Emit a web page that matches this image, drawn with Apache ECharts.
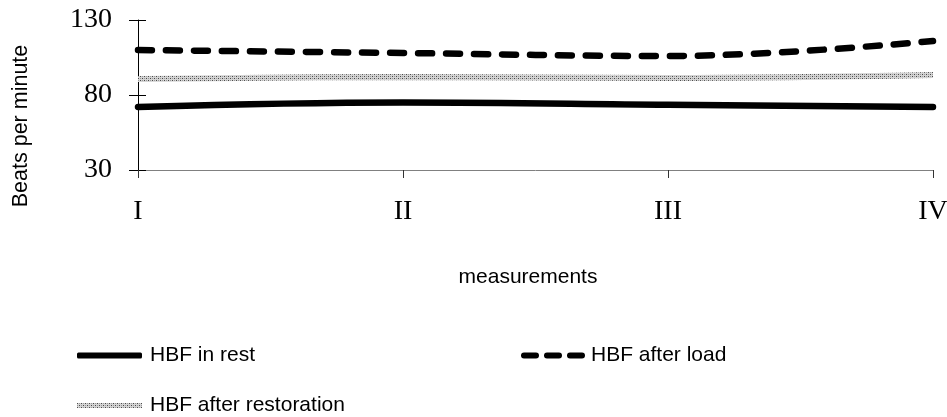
<!DOCTYPE html>
<html><head><meta charset="utf-8">
<script src="https://cdn.jsdelivr.net/npm/echarts@6/dist/echarts.min.js"></script>
<style>html,body{margin:0;padding:0;background:#fff}#c{width:947px;height:417px}</style>
</head><body><div id="c"></div>
<script>
const categories = ['I', 'II', 'III', 'IV'];
const rest = [72, 75, 73.5, 72];
const afterLoad = [110, 108, 106, 116];
const afterRestoration = [90.7, 92, 91.3, 93.3];
const yTicks = [30, 80, 130];
const yTitle = 'Beats per minute';
const xTitle = 'measurements';

const pc = document.createElement('canvas');
pc.width = 4; pc.height = 4;
const g = pc.getContext('2d');
g.fillStyle = '#d4d4d4'; g.fillRect(0,0,4,4);
g.fillStyle = '#4a4a4a'; g.fillRect(0,0,1,1); g.fillRect(2,2,1,1);
g.fillStyle = '#999'; g.fillRect(2,0,1,1); g.fillRect(0,2,1,1);
const pattern = {image: pc, repeat: 'repeat'};

const chart = echarts.init(document.getElementById('c'));
const serif = '"Liberation Serif", "Times New Roman", serif';
const sans = '"Liberation Sans", Arial, sans-serif';
const legText = {fontFamily: sans, fontSize: 21, color: '#000'};
chart.setOption({
  animation: false,
  grid: {left: 138, right: 14, top: 20, bottom: 247, containLabel: false, outerBoundsMode: 'none'},
  graphic: [
    {type: 'text', x: 21, y: 126, rotation: Math.PI / 2,
     style: {text: yTitle, font: '21.5px ' + sans, fill: '#000', align: 'center', verticalAlign: 'middle'}},
    {type: 'text', x: 528, y: 277,
     style: {text: xTitle, font: '21px ' + sans, fill: '#000', align: 'center', verticalAlign: 'middle'}}
  ],
  legend: [
    {data: [{name: 'HBF in rest', icon: 'roundRect'}], left: 72, top: 340, itemWidth: 65, itemHeight: 6,
     textStyle: Object.assign({padding: [0, 0, 0, 3]}, legText)},
    {data: [{name: 'HBF after load', icon: 'path://M3,0H15A3,3 0 0 1 15,6H3A3,3 0 0 1 3,0Z M26,0H38A3,3 0 0 1 38,6H26A3,3 0 0 1 26,0Z M49,0H61A3,3 0 0 1 61,6H49A3,3 0 0 1 49,0Z'}],
     left: 516, top: 340, itemWidth: 66, itemHeight: 6,
     textStyle: Object.assign({padding: [0, 0, 0, 0]}, legText)},
    {data: [{name: 'HBF after restoration', icon: 'rect', itemStyle: {color: pattern}}], left: 72, top: 390, itemWidth: 65, itemHeight: 5,
     textStyle: Object.assign({padding: [0, 0, 0, 3]}, legText)}
  ],
  xAxis: {
    type: 'category', data: categories, boundaryGap: false,
    axisLine: {lineStyle: {color: '#808080', width: 1}},
    axisTick: {show: true, length: 8, lineStyle: {color: '#333'}},
    axisLabel: {fontFamily: serif, fontSize: 28, color: '#000', margin: 28}
  },
  yAxis: [{
    type: 'value', min: yTicks[0], max: yTicks[2], interval: 50,
    axisLine: {show: true, lineStyle: {color: '#000', width: 1}},
    axisTick: {show: true, length: 9, lineStyle: {color: '#000'}},
    splitLine: {show: false},
    axisLabel: {fontFamily: serif, fontSize: 28, color: '#000', margin: 26}
  }, {
    type: 'value', min: yTicks[0], max: yTicks[2], interval: 50, position: 'left',
    axisLine: {show: false},
    axisTick: {show: true, inside: true, length: 8, lineStyle: {color: '#000'}},
    axisLabel: {show: false}, splitLine: {show: false}
  }],
  series: [
    {name: 'HBF in rest', type: 'line', data: rest, smooth: 0.4, symbol: 'none',
     lineStyle: {color: '#000', width: 6.5, cap: 'round'}, itemStyle: {color: '#000'}, z: 3},
    {name: 'HBF after load', type: 'line', data: afterLoad, smooth: 0.4, symbol: 'none',
     lineStyle: {color: '#000', width: 6.5, type: [14, 14], cap: 'round'}, itemStyle: {color: '#000'}, z: 3},
    {name: 'HBF after restoration', type: 'line', data: afterRestoration, smooth: 0.4, symbol: 'none',
     lineStyle: {color: pattern, width: 6}, itemStyle: {color: pattern}, z: 2}
  ]
});
</script></body></html>
